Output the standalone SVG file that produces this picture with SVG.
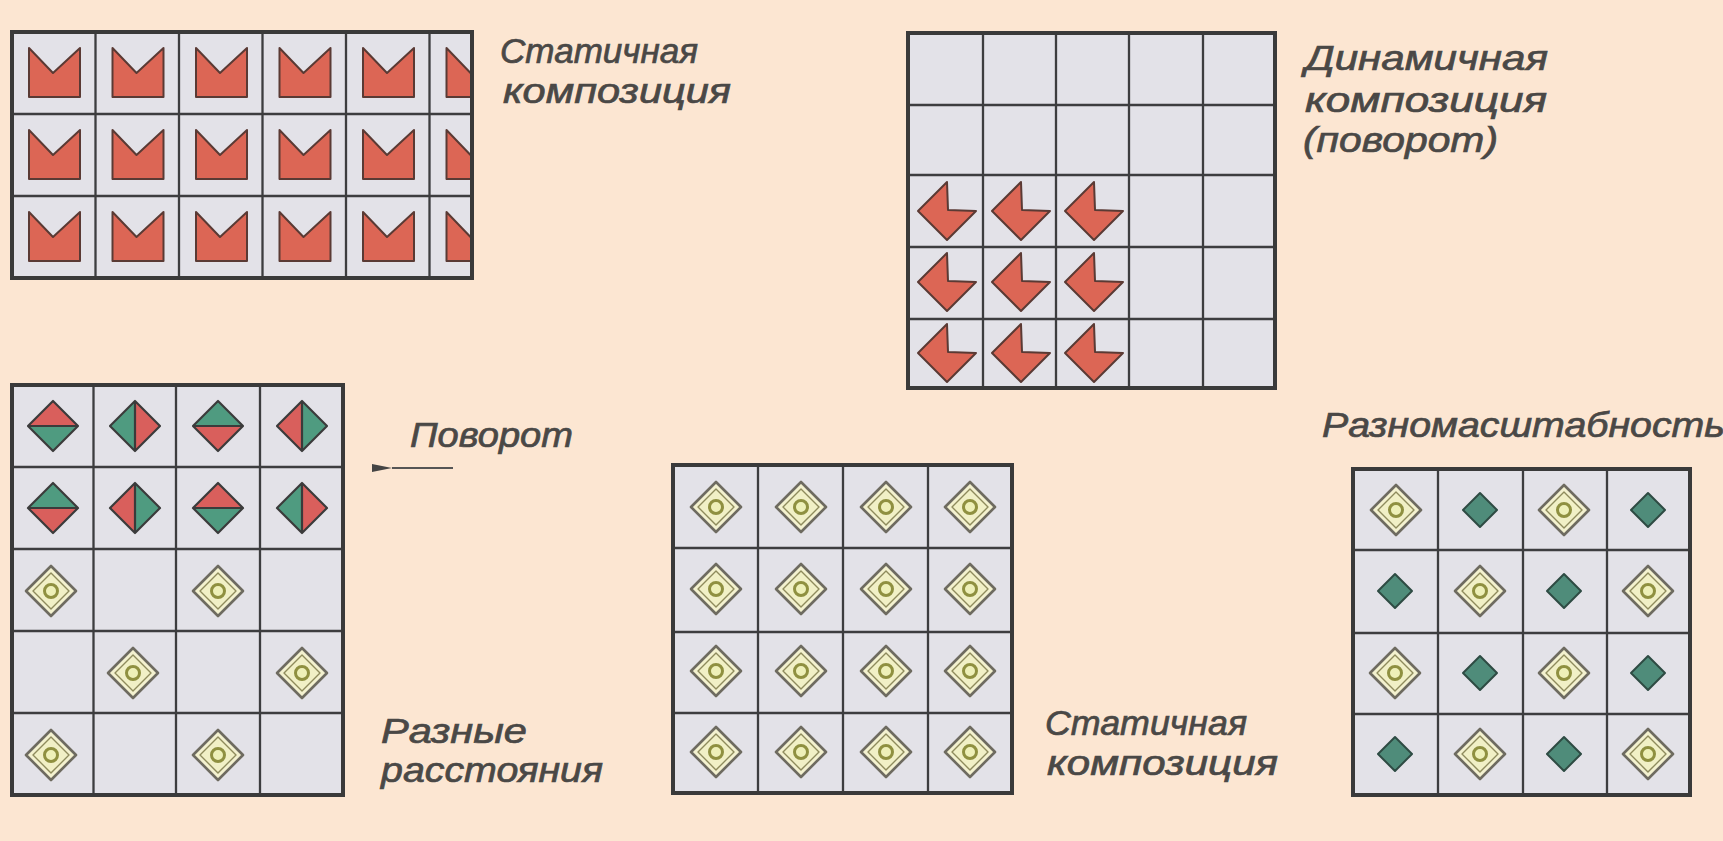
<svg xmlns="http://www.w3.org/2000/svg" xmlns:xlink="http://www.w3.org/1999/xlink" width="1723" height="841" viewBox="0 0 1723 841">
<style>
.bg{fill:#fce6d2}
.cell{fill:#e3e2e8}
.frame{fill:none;stroke:#3a3a3a;stroke-width:4}
.grid{stroke:#3d3d3f;stroke-width:2.3;fill:none}
.lbl{font-family:"Liberation Sans",Arial,sans-serif;font-style:italic;font-size:35px;fill:#4a4846;stroke:#4a4846;stroke-width:0.7}
.red{fill:#dc6655;stroke:#5a3a34;stroke-width:2;stroke-linejoin:round}
.rh{fill:#d95f5c}
.gh{fill:#4f9b80}
.dout{fill:none;stroke:#3b3b3b;stroke-width:2.2;stroke-linejoin:round}
.arrow{stroke:#555;stroke-width:1.8;fill:none}
</style>
<defs>
<path id="m" class="red" d="M17,16 L41,41 L68,16 L68,65 L17,65 Z"/>
<path id="chev" class="red" d="M-29,0 L0,-29 L1,-1 L29,0 L0,29 Z"/>
<g id="tgt">
<path d="M-25,0 L0,-25 L25,0 L0,25 Z" fill="#f3f1cf" stroke="#6e6b60" stroke-width="2.6" stroke-linejoin="round"/>
<path d="M-18,0 L0,-18 L18,0 L0,18 Z" fill="#f1f0c6" stroke="#8e8b5c" stroke-width="1.4" stroke-linejoin="round"/>
<circle r="6.5" fill="#eef0b8" stroke="#8f9040" stroke-width="3"/>
</g>
<path id="teal" d="M-17,0 L0,-17 L17,0 L0,17 Z" fill="#4f8c7a" stroke="#2e4b43" stroke-width="2" stroke-linejoin="round"/>
<g id="hRG"><path class="rh" d="M-25,0 L0,-25 L25,0 Z"/><path class="gh" d="M-25,0 L0,25 L25,0 Z"/><path class="dout" d="M-25,0 L0,-25 L25,0 L0,25 Z M-25,0 L25,0"/></g>
<g id="hGR"><path class="gh" d="M-25,0 L0,-25 L25,0 Z"/><path class="rh" d="M-25,0 L0,25 L25,0 Z"/><path class="dout" d="M-25,0 L0,-25 L25,0 L0,25 Z M-25,0 L25,0"/></g>
<g id="vGR"><path class="gh" d="M0,-25 L-25,0 L0,25 Z"/><path class="rh" d="M0,-25 L25,0 L0,25 Z"/><path class="dout" d="M-25,0 L0,-25 L25,0 L0,25 Z M0,-25 L0,25"/></g>
<g id="vRG"><path class="rh" d="M0,-25 L-25,0 L0,25 Z"/><path class="gh" d="M0,-25 L25,0 L0,25 Z"/><path class="dout" d="M-25,0 L0,-25 L25,0 L0,25 Z M0,-25 L0,25"/></g>
<clipPath id="clipTL"><rect x="12" y="32" width="460" height="246"/></clipPath>
<marker id="ah" viewBox="0 0 20 9" refX="0" refY="4.5" markerWidth="20" markerHeight="9" markerUnits="userSpaceOnUse" orient="auto-start-reverse"><path d="M0,4.5 L20,0.5 L20,8.5 Z" fill="#444"/></marker>
</defs>
<rect class="bg" x="0" y="0" width="1723" height="841"/>

<g id="grid-static-top">
<rect class="cell" x="12" y="32" width="460" height="246"/>
<g clip-path="url(#clipTL)">
<use href="#m" x="12" y="32"/><use href="#m" x="95.5" y="32"/><use href="#m" x="179" y="32"/><use href="#m" x="262.5" y="32"/><use href="#m" x="346" y="32"/><use href="#m" x="429.5" y="32"/>
<use href="#m" x="12" y="114"/><use href="#m" x="95.5" y="114"/><use href="#m" x="179" y="114"/><use href="#m" x="262.5" y="114"/><use href="#m" x="346" y="114"/><use href="#m" x="429.5" y="114"/>
<use href="#m" x="12" y="196"/><use href="#m" x="95.5" y="196"/><use href="#m" x="179" y="196"/><use href="#m" x="262.5" y="196"/><use href="#m" x="346" y="196"/><use href="#m" x="429.5" y="196"/>
</g>
<path class="grid" d="M95.5,32V278 M179,32V278 M262.5,32V278 M346,32V278 M429.5,32V278 M12,114H472 M12,196H472"/>
<rect class="frame" x="12" y="32" width="460" height="246"/>
</g>

<g id="grid-dynamic">
<rect class="cell" x="908" y="33" width="367" height="355"/>
<use href="#chev" x="947" y="211"/><use href="#chev" x="1021" y="211"/><use href="#chev" x="1094" y="211"/>
<use href="#chev" x="947" y="282"/><use href="#chev" x="1021" y="282"/><use href="#chev" x="1094" y="282"/>
<use href="#chev" x="947" y="353"/><use href="#chev" x="1021" y="353"/><use href="#chev" x="1094" y="353"/>
<path class="grid" d="M983,33V388 M1056,33V388 M1129,33V388 M1203,33V388 M908,105H1275 M908,175H1275 M908,247H1275 M908,319H1275"/>
<rect class="frame" x="908" y="33" width="367" height="355"/>
</g>

<g id="grid-rotation">
<rect class="cell" x="12" y="385" width="331" height="410"/>
<use href="#hRG" x="53" y="426"/><use href="#vGR" x="135" y="426"/><use href="#hGR" x="218" y="426"/><use href="#vRG" x="302" y="426"/>
<use href="#hGR" x="53" y="508"/><use href="#vRG" x="135" y="508"/><use href="#hRG" x="218" y="508"/><use href="#vGR" x="302" y="508"/>
<use href="#tgt" x="51" y="591"/><use href="#tgt" x="218" y="591"/>
<use href="#tgt" x="133" y="673"/><use href="#tgt" x="302" y="673"/>
<use href="#tgt" x="51" y="755"/><use href="#tgt" x="218" y="755"/>
<path class="grid" d="M93.5,385V795 M176,385V795 M260,385V795 M12,467H343 M12,549H343 M12,631H343 M12,713H343"/>
<rect class="frame" x="12" y="385" width="331" height="410"/>
</g>

<g id="grid-static-bottom">
<rect class="cell" x="673" y="465" width="339" height="328"/>
<use href="#tgt" x="716" y="507"/><use href="#tgt" x="801" y="507"/><use href="#tgt" x="886" y="507"/><use href="#tgt" x="970" y="507"/>
<use href="#tgt" x="716" y="589"/><use href="#tgt" x="801" y="589"/><use href="#tgt" x="886" y="589"/><use href="#tgt" x="970" y="589"/>
<use href="#tgt" x="716" y="671"/><use href="#tgt" x="801" y="671"/><use href="#tgt" x="886" y="671"/><use href="#tgt" x="970" y="671"/>
<use href="#tgt" x="716" y="752"/><use href="#tgt" x="801" y="752"/><use href="#tgt" x="886" y="752"/><use href="#tgt" x="970" y="752"/>
<path class="grid" d="M758,465V793 M843,465V793 M928,465V793 M673,548H1012 M673,632H1012 M673,713H1012"/>
<rect class="frame" x="673" y="465" width="339" height="328"/>
</g>

<g id="grid-scale">
<rect class="cell" x="1353" y="469" width="337" height="326"/>
<use href="#tgt" x="1396" y="510"/><use href="#teal" x="1480" y="510"/><use href="#tgt" x="1564" y="510"/><use href="#teal" x="1648" y="510"/>
<use href="#teal" x="1395" y="591"/><use href="#tgt" x="1480" y="591"/><use href="#teal" x="1564" y="591"/><use href="#tgt" x="1648" y="591"/>
<use href="#tgt" x="1395" y="673"/><use href="#teal" x="1480" y="673"/><use href="#tgt" x="1564" y="673"/><use href="#teal" x="1648" y="673"/>
<use href="#teal" x="1395" y="754"/><use href="#tgt" x="1480" y="754"/><use href="#teal" x="1564" y="754"/><use href="#tgt" x="1648" y="754"/>
<path class="grid" d="M1438,469V795 M1523,469V795 M1607,469V795 M1353,550H1690 M1353,633H1690 M1353,714H1690"/>
<rect class="frame" x="1353" y="469" width="337" height="326"/>
</g>

<g id="connectors">
<line class="arrow" x1="392" y1="468" x2="453" y2="468" marker-start="url(#ah)"/>
</g>

<g id="labels">
<text class="lbl" x="500" y="63" textLength="198" lengthAdjust="spacingAndGlyphs" font-size="37">Статичная</text>
<text class="lbl" x="503" y="103" textLength="228" lengthAdjust="spacingAndGlyphs">композиция</text>
<text class="lbl" x="1305" y="70" textLength="243" lengthAdjust="spacingAndGlyphs">Динамичная</text>
<text class="lbl" x="1305" y="112" textLength="242" lengthAdjust="spacingAndGlyphs">композиция</text>
<text class="lbl" x="1303" y="152" textLength="195" lengthAdjust="spacingAndGlyphs">(поворот)</text>
<text class="lbl" x="410" y="447" textLength="163" lengthAdjust="spacingAndGlyphs">Поворот</text>
<text class="lbl" x="1322" y="437" textLength="403" lengthAdjust="spacingAndGlyphs">Разномасштабность</text>
<text class="lbl" x="381" y="743" textLength="146" lengthAdjust="spacingAndGlyphs">Разные</text>
<text class="lbl" x="381" y="782" textLength="222" lengthAdjust="spacingAndGlyphs">расстояния</text>
<text class="lbl" x="1045" y="735" textLength="202" lengthAdjust="spacingAndGlyphs">Статичная</text>
<text class="lbl" x="1047" y="775" textLength="231" lengthAdjust="spacingAndGlyphs">композиция</text>
</g>
</svg>
